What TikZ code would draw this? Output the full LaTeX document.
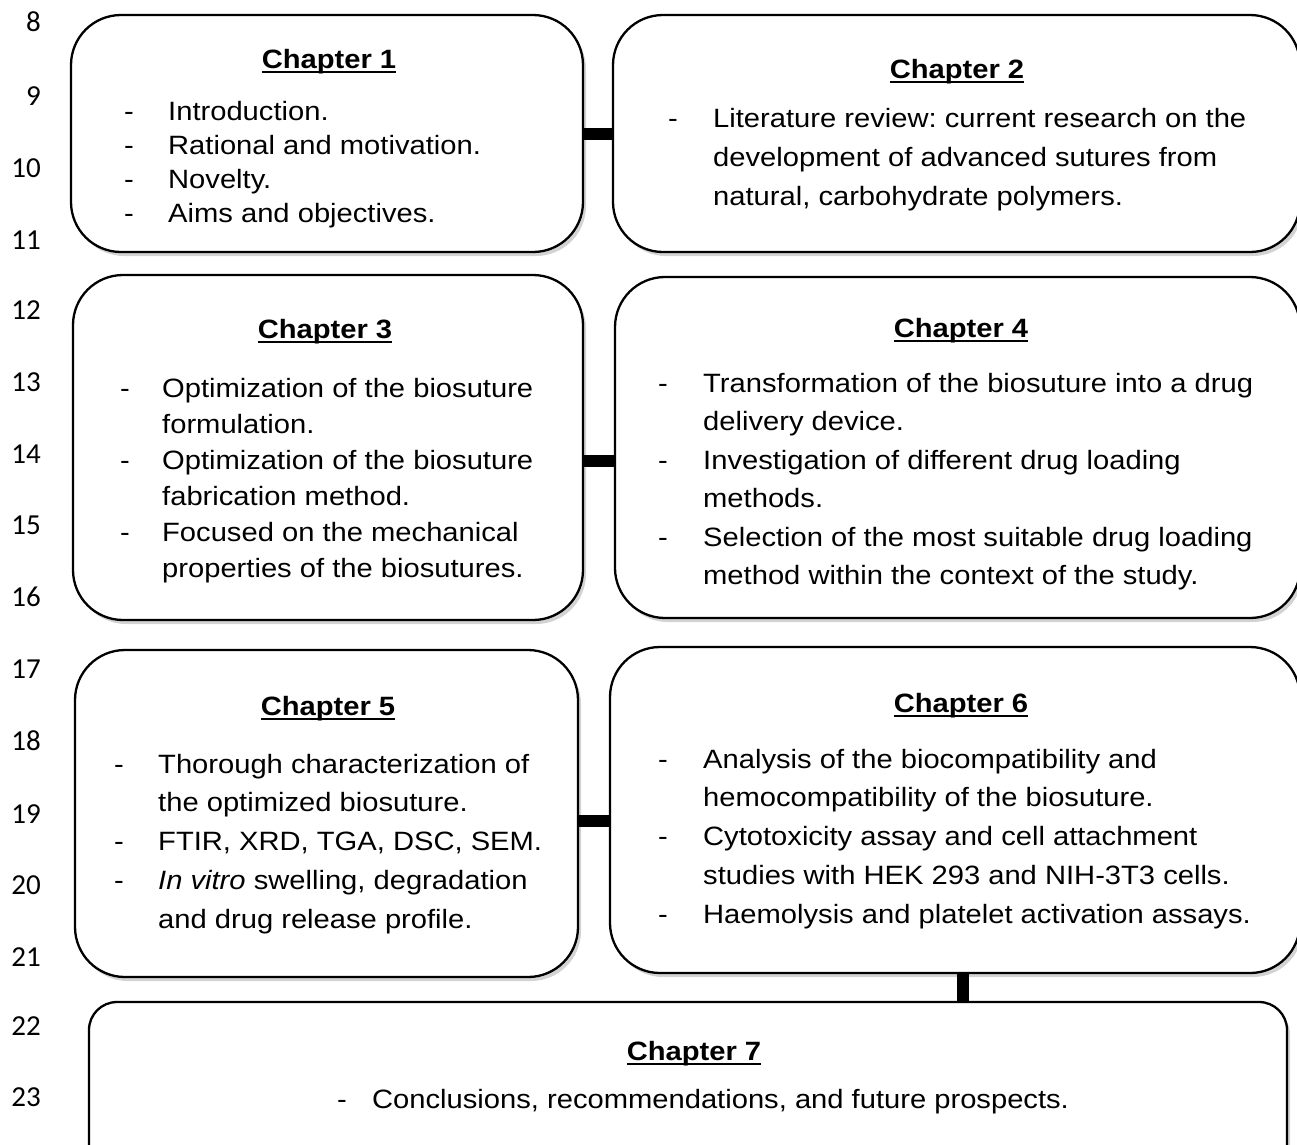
\documentclass[tikz,border=0pt]{standalone}
\usepackage{fontspec}
\setmainfont{Liberation Sans}[FakeStretch=1.1]
\newfontfamily\numfont{Carlito}
\usetikzlibrary{positioning, shadows}
\frenchspacing

\newsavebox{\headbox}
\newcommand{\uln}[1]{\sbox{\headbox}{#1}\usebox{\headbox}\llap{\rule[-5pt]{\wd\headbox}{2.4pt}}}
\newcommand{\dash}[1][44pt]{\makebox[#1][l]{-}}
\newcommand{\gap}{\hspace*{44pt}}

\begin{document}
\begin{tikzpicture}[x=1pt, y=-1pt,
        chap/.style={rectangle, draw, line width=2.3pt, rounded corners=50pt, fill=white,
                     drop shadow={shadow xshift=3pt, shadow yshift=-4pt, opacity=0.35}},
        head/.style={anchor=base, inner sep=0pt, font=\fontsize{26.5}{30}\selectfont\bfseries},
        items/.style={anchor=north west, inner sep=0pt, align=left,
                      font=\fontsize{26.5}{#1}\selectfont},
        link/.style={line width=12pt},
        lineno/.style={anchor=base east, inner sep=0pt, font=\fontsize{29}{30}\numfont}
    ]
        \useasboundingbox (0,0) rectangle (1297,1144);

        % line numbers
        \node[lineno] (n8) at (41,31) {8};
        \node[lineno] (n9) at (41,105) {9};
        \node[lineno] (n10) at (41,177) {10};
        \node[lineno] (n11) at (41,249) {11};
        \node[lineno] (n12) at (41,319) {12};
        \node[lineno] (n13) at (41,391) {13};
        \node[lineno] (n14) at (41,463) {14};
        \node[lineno] (n15) at (41,534) {15};
        \node[lineno] (n16) at (41,606) {16};
        \node[lineno] (n17) at (41,678) {17};
        \node[lineno] (n18) at (41,750) {18};
        \node[lineno] (n19) at (41,823) {19};
        \node[lineno] (n20) at (41,894) {20};
        \node[lineno] (n21) at (41,966) {21};
        \node[lineno] (n22) at (41,1035) {22};
        \node[lineno] (n23) at (41,1106) {23};

        % chapter boxes
        \node[chap, minimum width=512pt, minimum height=237pt] (ch1) at (327,133.5) {};
        \node[chap, minimum width=687pt, minimum height=237pt] (ch2) at (956.5,133.5) {};
        \node[chap, minimum width=510pt, minimum height=345pt] (ch3) at (328,447.5) {};
        \node[chap, minimum width=685pt, minimum height=341pt] (ch4) at (957.5,447.5) {};
        \node[chap, minimum width=503pt, minimum height=327pt] (ch5) at (326.5,813.5) {};
        \node[chap, minimum width=690pt, minimum height=326pt] (ch6) at (955,810) {};
        \node[chap, rounded corners=28pt, minimum width=1198pt, minimum height=170pt] (ch7) at (688,1087) {};

        \draw[link] (ch1.east) -- (ch2.west);
        \draw[link] ([yshift=-13pt]ch3.east) -- ([yshift=-13pt]ch4.west);
        \draw[link] ([yshift=-7pt]ch5.east) -- ([yshift=-7pt]ch6.west |- ch5.east);
        \draw[link] ([xshift=8pt]ch6.south) -- ([xshift=8pt]ch6.south |- ch7.north);

        % headings
        \node[head] (h1) at (329,68) {\uln{Chapter 1}};
        \node[head] (h2) at (957,78) {\uln{Chapter 2}};
        \node[head] (h3) at (325,338) {\uln{Chapter 3}};
        \node[head] (h4) at (961,337) {\uln{Chapter 4}};
        \node[head] (h5) at (328,715) {\uln{Chapter 5}};
        \node[head] (h6) at (961,712) {\uln{Chapter 6}};
        \node[head] (h7) at (694,1060) {\uln{Chapter 7}};

        % contents
        \node[items=34pt] (l1) at (124,100.7) {\dash Introduction.\\
            \dash Rational and motivation.\\
            \dash Novelty.\\
            \dash Aims and objectives.};
        \node[items=39pt] (l2) at (668,107.7) {\dash[45pt]Literature review: current research on the\\
            \hspace*{45pt}development of advanced sutures from\\
            \hspace*{45pt}natural, carbohydrate polymers.};
        \node[items=36pt] (l3) at (120,377.7) {\dash[42pt]Optimization of the biosuture\\
            \hspace*{42pt}formulation.\\
            \dash[42pt]Optimization of the biosuture\\
            \hspace*{42pt}fabrication method.\\
            \dash[42pt]Focused on the mechanical\\
            \hspace*{42pt}properties of the biosutures.};
        \node[items=38.5pt] (l4) at (658,372.7) {\dash[45pt]Transformation of the biosuture into a drug\\
            \hspace*{45pt}delivery device.\\
            \dash[45pt]Investigation of different drug loading\\
            \hspace*{45pt}methods.\\
            \dash[45pt]Selection of the most suitable drug loading\\
            \hspace*{45pt}method within the context of the study.};
        \node[items=38.8pt] (l5) at (114,753.7) {\dash Thorough characterization of\\
            \gap the optimized biosuture.\\
            \dash FTIR, XRD, TGA, DSC, SEM.\\
            \dash\textit{In vitro} swelling, degradation\\
            \gap and drug release profile.};
        \node[items=38.8pt] (l6) at (658,748.7) {\dash[45pt]Analysis of the biocompatibility and\\
            \hspace*{45pt}hemocompatibility of the biosuture.\\
            \dash[45pt]Cytotoxicity assay and cell attachment\\
            \hspace*{45pt}studies with HEK 293 and NIH-3T3 cells.\\
            \dash[45pt]Haemolysis and platelet activation assays.};
        \node[items=34pt] (l7) at (337,1088.7) {\dash[35pt]Conclusions, recommendations, and future prospects.};
    \end{tikzpicture}
\end{document}
